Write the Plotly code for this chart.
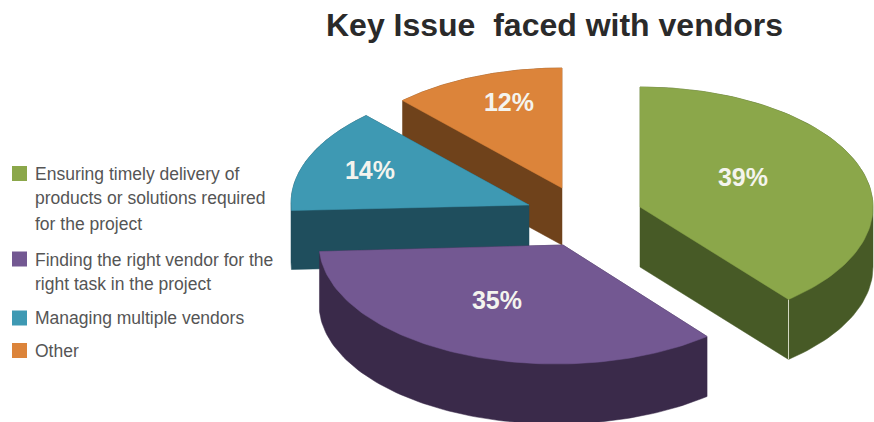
import numpy as np
import plotly.graph_objects as go

# Slice data, listed clockwise from twelve o'clock
categories = [
    "Ensuring timely delivery of products or solutions required for the project",
    "Finding the right vendor for the right task in the project",
    "Managing multiple vendors",
    "Other",
]
shares = [39, 35, 14, 12]
legend_lines = [
    ["Ensuring timely delivery of", "products or solutions required", "for the project"],
    ["Finding the right vendor for the", "right task in the project"],
    ["Managing multiple vendors"],
    ["Other"],
]
top_colors = ["#8BA74A", "#735892", "#3E99B3", "#DC843A"]
wall_colors = ["#475A26", "#3A2A4A", "#1F4E5D", "#6F421B"]

# Exploded position of each slice on the 874x422 canvas
apex_x = [640, 563, 529, 562]
apex_y = [207, 245, 205, 188]
arc_shift_x = [0, -7, 0, 0]
arc_shift_y = [0, -1, -2, 0]
radius_x = [233, 237, 238, 233]
radius_y = [120, 120, 120, 120]
depth = [60, 60, 59, 57]
label_x = [743, 497, 370, 509]
label_y = [180, 303, 173, 105]
legend_swatch_y = [173.5, 259, 318, 350.5]
legend_line_y = [[174, 198, 224], [260, 284], [318], [351]]
CLIP_LEFT = 291
DRAW_ORDER = [3, 2, 0, 1]


def wedge_outline(i, start, sweep):
    """Top face of a slice as a polygon; angles run clockwise from the top."""
    theta = np.radians(np.linspace(start, start + sweep, 90))
    x = apex_x[i] + arc_shift_x[i] + radius_x[i] * np.sin(theta)
    y = apex_y[i] + arc_shift_y[i] - radius_y[i] * np.cos(theta)
    x = np.maximum(np.r_[apex_x[i], x], CLIP_LEFT)
    y = np.r_[apex_y[i], y]
    return x, y


def convex_hull(points):
    pts = sorted(set(points))

    def half(seq):
        out = []
        for p in seq:
            while len(out) > 1 and (
                (out[-1][0] - out[-2][0]) * (p[1] - out[-2][1])
                - (out[-1][1] - out[-2][1]) * (p[0] - out[-2][0])
            ) <= 0:
                out.pop()
            out.append(p)
        return out[:-1]

    return half(pts) + half(pts[::-1])


starts = np.r_[0, np.cumsum(shares)[:-1]] * 360 / sum(shares)
sweeps = np.array(shares) * 360 / sum(shares)

fig = go.Figure()
for i in DRAW_ORDER:
    x, y = wedge_outline(i, starts[i], sweeps[i])
    # The wall is the outline of the top face swept straight down
    hull = convex_hull(list(zip(x, y)) + list(zip(x, y + depth[i])))
    hx, hy = zip(*hull)
    fig.add_trace(go.Scatter(
        x=list(hx) + [hx[0]], y=list(hy) + [hy[0]], mode="lines", fill="toself",
        fillcolor=wall_colors[i], line=dict(color=wall_colors[i], width=0.5),
        hoverinfo="skip", showlegend=False,
    ))
    if i == 0:
        # Pale seam down the front corner of the first slice
        fig.add_trace(go.Scatter(
            x=[x[-1], x[-1]], y=[y[-1], y[-1] + depth[i]], mode="lines",
            line=dict(color="#D5DAC4", width=1), hoverinfo="skip", showlegend=False,
        ))
    fig.add_trace(go.Scatter(
        x=np.r_[x, x[0]], y=np.r_[y, y[0]], mode="lines", fill="toself",
        fillcolor=top_colors[i], line=dict(color=top_colors[i], width=0.5),
        name=categories[i], text=f"{shares[i]}%", hoverinfo="name+text",
        showlegend=False,
    ))

# Percentage labels
fig.add_trace(go.Scatter(
    x=label_x, y=label_y, mode="text", text=[f"{v}%" for v in shares],
    textposition="middle center",
    textfont=dict(family="Liberation Sans", size=25, color="#F4F4EE", weight="bold"),
    hoverinfo="skip", showlegend=False,
))

# Legend swatches and wrapped labels
fig.add_trace(go.Scatter(
    x=[19.5] * 4, y=legend_swatch_y, mode="markers",
    marker=dict(symbol="square", size=15, color=top_colors, line=dict(width=0)),
    hoverinfo="skip", showlegend=False,
))
for lines, ys in zip(legend_lines, legend_line_y):
    for line, yy in zip(lines, ys):
        fig.add_annotation(
            x=35, y=yy, text=line, showarrow=False, xanchor="left", yanchor="middle",
            xshift=-2, font=dict(family="Liberation Sans", size=17.5, color="#555555"),
        )

fig.update_layout(
    width=874, height=422, margin=dict(l=0, r=0, t=0, b=0),
    paper_bgcolor="white", plot_bgcolor="white",
    title=dict(
        text="Key Issue\u00a0 faced with vendors", x=554.5 / 874, y=1 - 25 / 422,
        xanchor="center", yanchor="middle",
        font=dict(family="Liberation Sans", size=32, color="#2A2A2A", weight="bold"),
    ),
    xaxis=dict(range=[0, 874], visible=False, fixedrange=True),
    yaxis=dict(range=[422, 0], visible=False, fixedrange=True),
)

fig.write_html("out.html")
